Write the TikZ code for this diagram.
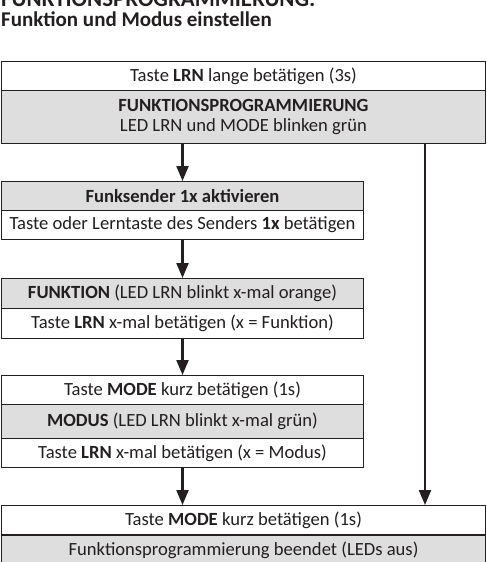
\documentclass[tikz,border=0pt]{standalone}
\usepackage{fontspec}
\setmainfont{Carlito}
\usetikzlibrary{arrows.meta}
\definecolor{ink}{HTML}{231F20}
\definecolor{shade}{HTML}{DEDEDE}
\begin{document}
\begin{tikzpicture}[x=1pt,y=-1pt,font=\fontsize{18.6}{20.5}\selectfont]
	\tikzstyle{row}=[draw=ink,line width=1pt,anchor=north west,inner sep=0pt,minimum height=29pt,text=ink,align=center]
	\tikzstyle{wide}=[minimum width=484pt]
	\tikzstyle{narrow}=[minimum width=362pt]
	\tikzstyle{grey}=[fill=shade]
	\tikzstyle{flow}=[line width=2.2pt,draw=ink,-{Triangle[width=12pt,length=15pt]}]
	\tikzstyle{heading}=[anchor=base west,inner sep=0pt,text=ink,font=\bfseries\fontsize{21}{23}\selectfont]

	\useasboundingbox (0,0) rectangle (487,562);

	\node[heading,font=\bfseries\fontsize{22.9}{24}\selectfont](head) at (1,6){FUNKTIONSPROGRAMMIERUNG:};
	\node[heading](sub) at (1,26){Funktion und Modus einstellen};

	% Start
	\node[row,wide](lrn) at (1,61){Taste \textbf{LRN} lange betätigen (3s)};
	\node[row,wide,grey,minimum height=53pt](prog) at (1,90){\textbf{FUNKTIONSPROGRAMMIERUNG}\\LED LRN und MODE blinken grün};

	% Funksender
	\node[row,narrow,grey](send) at (1,181){\textbf{Funksender 1x aktivieren}};
	\node[row,narrow](sendkey) at (1,210){Taste oder Lerntaste des Senders \textbf{1x} betätigen};

	% Funktion
	\node[row,narrow,grey,minimum height=30pt](func) at (1,278){\textbf{FUNKTION} (LED LRN blinkt x-mal orange)};
	\node[row,narrow,minimum height=30pt](funckey) at (1,308){Taste \textbf{LRN} x-mal betätigen (x = Funktion)};

	% Modus
	\node[row,narrow](mode) at (1,375){Taste \textbf{MODE} kurz betätigen (1s)};
	\node[row,narrow,grey,minimum height=34pt](modus) at (1,404){\textbf{MODUS} (LED LRN blinkt x-mal grün)};
	\node[row,narrow](moduskey) at (1,438){Taste \textbf{LRN} x-mal betätigen (x = Modus)};

	% Ende
	\node[row,wide](endkey) at (1,505){Taste \textbf{MODE} kurz betätigen (1s)};
	\node[row,wide,grey,minimum height=30pt](done) at (1,535){Funktionsprogrammierung beendet (LEDs aus)};

	\coordinate(skip) at (425,143);

	\draw[flow] (send.north |- prog.south) -- (send.north);
	\draw[flow] (sendkey.south) -- (func.north);
	\draw[flow] (funckey.south) -- (mode.north);
	\draw[flow] (moduskey.south) -- (moduskey.south |- endkey.north);
	\draw[flow] (skip) -- (skip |- endkey.north);
\end{tikzpicture}
\end{document}
